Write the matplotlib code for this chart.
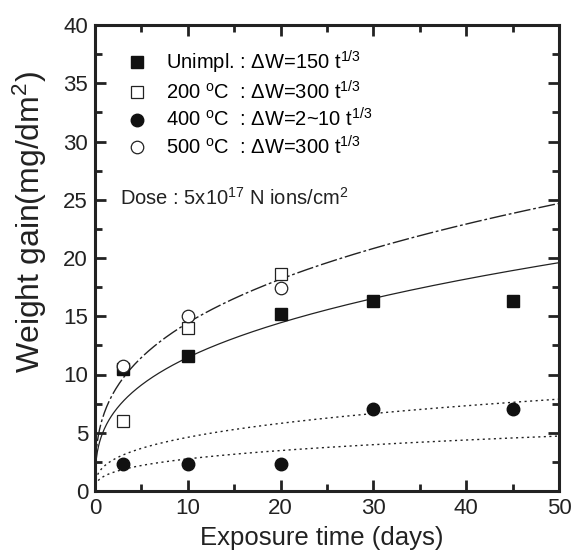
import matplotlib
matplotlib.use("Agg")
import matplotlib.pyplot as plt
import numpy as np
from matplotlib.ticker import MultipleLocator

plt.rcParams["font.family"] = ["Liberation Sans", "DejaVu Sans"]
plt.rcParams["mathtext.fontset"] = "custom"
plt.rcParams["mathtext.rm"] = "Liberation Sans"
plt.rcParams["mathtext.it"] = "Liberation Sans"
plt.rcParams["mathtext.bf"] = "Liberation Sans"

# measured points
days = [3, 10, 20, 30, 45]
unimpl = [10.5, 11.6, 15.2, 16.3, 16.3]
t200_days = [3, 10, 20]
t200 = [6.0, 14.0, 18.6]
t400 = [2.3, 2.3, 2.3, 7.0, 7.0]
t500_days = [3, 10, 20]
t500 = [10.7, 15.0, 17.4]

# fitted curves dW = k * t^(1/3), k
k_unimpl = 5.32
k_hi = 6.70
k_400_hi = 2.14
k_400_lo = 1.28

fig = plt.figure(figsize=(5.74, 5.52), dpi=100)
ax = fig.add_axes([95 / 574, 1 - 491 / 552, 464 / 574, 466 / 552])

t = np.linspace(0, 50, 400)
ax.plot(t, k_unimpl * t ** (1 / 3), color="#222222", lw=0.9, ls="-")
ax.plot(t, k_hi * t ** (1 / 3), color="#222222", lw=1.0, ls=(0, (12, 2, 2, 2)))
ax.plot(t, k_400_hi * t ** (1 / 3), color="#222222", lw=1.0, ls=(0, (1.5, 2.5)))
ax.plot(t, k_400_lo * t ** (1 / 3), color="#222222", lw=1.0, ls=(0, (1.5, 2.5)))

ax.plot(days, unimpl, "s", ms=8, color="#111111", ls="none",
        label="Unimpl. : ΔW=150 t$^{1/3}$")
ax.plot(t200_days, t200, "s", ms=8, mfc="white", mec="#222222", mew=0.9,
        ls="none", label="200 $^{\\mathrm{o}}$C  : ΔW=300 t$^{1/3}$")
ax.plot(days, t400, "o", ms=9, color="#111111", ls="none",
        label="400 $^{\\mathrm{o}}$C  : ΔW=2~10 t$^{1/3}$")
ax.plot(t500_days, t500, "o", ms=9, mfc="white", mec="#222222", mew=0.9,
        ls="none", label="500 $^{\\mathrm{o}}$C  : ΔW=300 t$^{1/3}$")

ax.legend(loc="upper left", bbox_to_anchor=(0.0, 0.993), frameon=False,
          fontsize=14.5, handletextpad=0.35, labelspacing=0.22, borderpad=0.5,
          handlelength=2.2)

ax.text(2.7, 25.2, "Dose : 5x10$^{17}$ N ions/cm$^{2}$", fontsize=14.5,
        va="center", ha="left", color="#222222")

ax.set_xlim(0, 50)
ax.set_ylim(0, 40)
ax.xaxis.set_major_locator(MultipleLocator(10))
ax.xaxis.set_minor_locator(MultipleLocator(5))
ax.yaxis.set_major_locator(MultipleLocator(5))
ax.yaxis.set_minor_locator(MultipleLocator(2.5))
ax.tick_params(which="both", direction="in", top=True, right=True,
               labelsize=16, colors="#222222", width=2)
ax.tick_params(which="major", length=8, pad=5)
ax.tick_params(which="minor", length=5)
for sp in ax.spines.values():
    sp.set_linewidth(2.2)
    sp.set_color("#222222")

ax.set_xlabel("Exposure time (days)", fontsize=18.5, color="#222222")
ax.set_ylabel("Weight gain(mg/dm$^{2}$)", fontsize=23, color="#222222")
ax.xaxis.set_label_coords(0.489, -0.076)
ax.yaxis.set_label_coords(-0.10, 0.577)

fig.savefig("out.png", dpi=100)
